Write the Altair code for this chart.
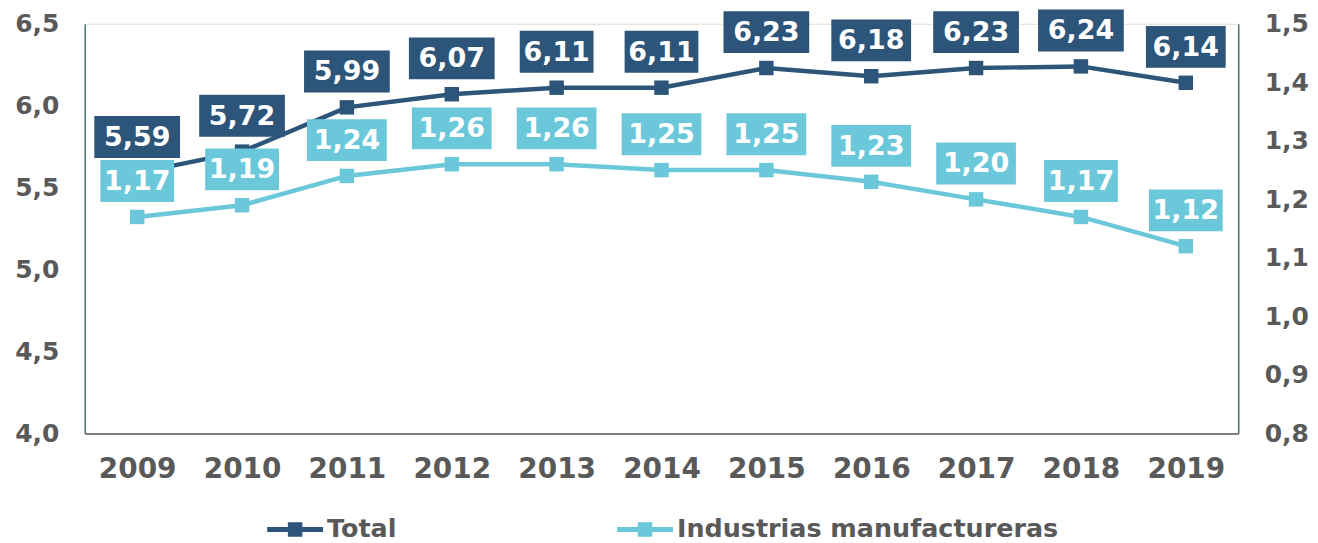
import altair as alt
import pandas as pd

years = ["2009", "2010", "2011", "2012", "2013", "2014", "2015", "2016", "2017", "2018", "2019"]
total = [5.59, 5.72, 5.99, 6.07, 6.11, 6.11, 6.23, 6.18, 6.23, 6.24, 6.14]
industria = [1.17, 1.19, 1.24, 1.26, 1.26, 1.25, 1.25, 1.23, 1.20, 1.17, 1.12]
series = ["Total", "Industrias manufactureras"]
colors = ["#2d5579", "#6bc8db"]
left_ticks = [4.0, 4.5, 5.0, 5.5, 6.0, 6.5]
right_ticks = [0.8, 0.9, 1.0, 1.1, 1.2, 1.3, 1.4, 1.5]

FONT = "DejaVu Sans"
GRAY = "#595959"
AXIS_LINE = "#4d7468"


def frame(vals, name):
    df = pd.DataFrame({"year": years, "value": vals})
    df["serie"] = name
    df["label"] = [f"{v:.2f}".replace(".", ",") for v in vals]
    widths = [86 - 6 * lab.count("1") for lab in df["label"]]
    df["box"] = [f"M-1,{-42 / w:.4f}H1V{42 / w:.4f}H-1Z" for w in widths]
    df["bsize"] = [w * w for w in widths]
    return df


df_t = frame(total, series[0])
df_i = frame(industria, series[1])

x_enc = alt.X("year:N", title=None, sort=years,
              axis=alt.Axis(labelAngle=0, ticks=False, labelPadding=22, labelFont=FONT,
                            labelFontSize=28, labelFontWeight="bold", labelColor=GRAY,
                            domainColor=GRAY, domainWidth=1.5))

# legend symbol: a 56px line with a square in the middle; the path reaches past
# the unit box so that the legend row stays low while the symbol stays wide
color_enc = alt.Color("serie:N", title=None,
                      scale=alt.Scale(domain=series, range=colors),
                      legend=alt.Legend(orient="none", legendX=197, legendY=493,
                                        direction="horizontal", columnPadding=221,
                                        symbolType="M-2,-0.18H-0.52V-0.52H0.52V-0.18H2V0.18H0.52V0.52H-0.52V0.18H-2Z",
                                        symbolSize=784, symbolStrokeWidth=0, symbolOpacity=1,
                                        labelFont=FONT, labelFontSize=25.5, labelFontWeight="bold",
                                        labelColor=GRAY, labelOffset=18, labelLimit=500))


def series_layer(df, color, y_enc):
    line = alt.Chart(df).mark_line(
        color=color, strokeWidth=4.5,
        point=alt.OverlayMarkDef(shape="square", size=210, color=color, filled=True, opacity=1)
    ).encode(x=x_enc, y=y_enc)
    box = alt.Chart(df).mark_point(filled=True, opacity=1, strokeWidth=0, yOffset=-36).encode(
        x=x_enc, y=y_enc,
        shape=alt.Shape("box:N", scale=None),
        size=alt.Size("bsize:Q", scale=None),
        color=color_enc,
    )
    text = alt.Chart(df).mark_text(
        yOffset=-35, color="white", font=FONT, fontSize=27, fontWeight="bold", baseline="middle"
    ).encode(x=x_enc, y=y_enc, text="label:N")
    return alt.layer(line, box, text)


y_left = alt.Y("value:Q", title=None,
               scale=alt.Scale(domain=[4.0, 6.5], nice=False, zero=False),
               axis=alt.Axis(values=left_ticks, grid=False, ticks=False, labelPadding=26,
                             labelExpr="replace(format(datum.value, '.1f'), '.', ',')",
                             labelFont=FONT, labelFontSize=25, labelFontWeight="bold",
                             labelColor=GRAY, domainColor=AXIS_LINE, domainWidth=1.5))
y_right = alt.Y("value:Q", title=None,
                scale=alt.Scale(domain=[0.8, 1.5], nice=False, zero=False),
                axis=alt.Axis(orient="right", values=right_ticks, grid=False, ticks=False,
                              labelPadding=26,
                              labelExpr="replace(format(datum.value, '.1f'), '.', ',')",
                              labelFont=FONT, labelFontSize=25, labelFontWeight="bold",
                              labelColor=GRAY, domainColor=AXIS_LINE, domainWidth=1.5))

chart = alt.layer(
    series_layer(df_t, colors[0], y_left),
    series_layer(df_i, colors[1], y_right),
).resolve_scale(y="independent").properties(
    width=1157, height=411, autosize="none",
    padding={"left": 77, "top": 15, "right": 72, "bottom": 109},
).configure_view(stroke=None).configure(background="white")

chart.save("out.html", embed_options={"renderer": "svg", "actions": False})
